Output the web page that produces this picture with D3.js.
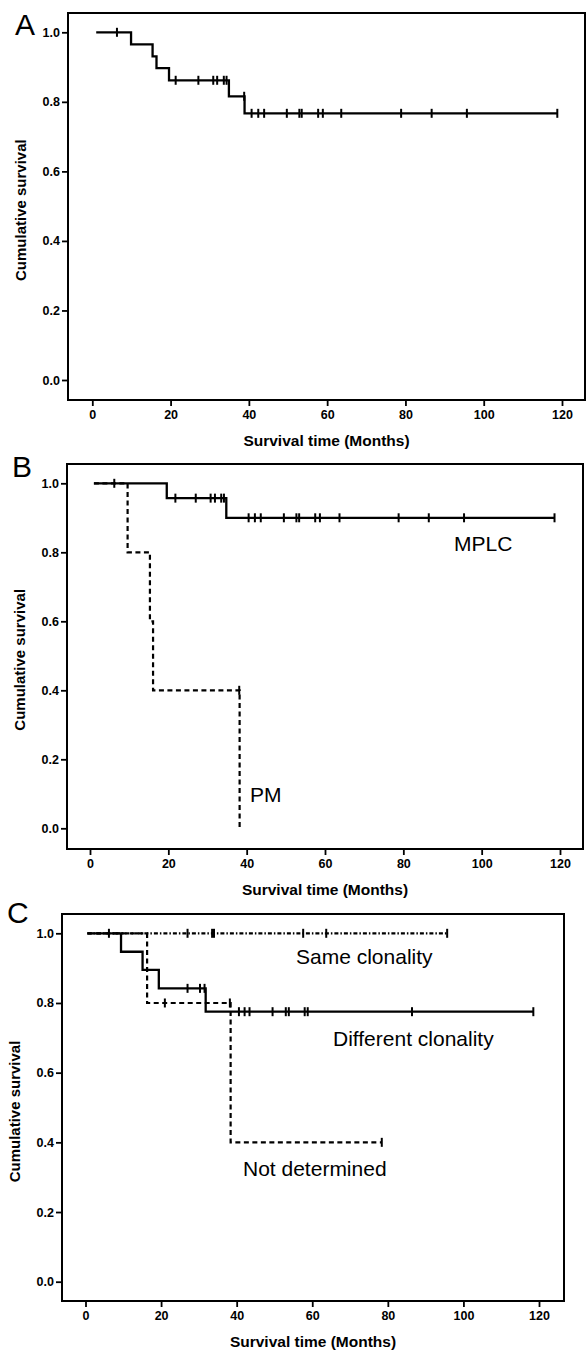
<!DOCTYPE html>
<html>
<head>
<meta charset="utf-8">
<script src="https://cdn.jsdelivr.net/npm/d3@7"></script>
<style>
  body { margin: 0; background: #fff; }
  svg { display: block; }
</style>
</head>
<body>
<svg id="chart" width="586" height="1353"></svg>
<script>
// x and y ticks shared by all three panels
const xTicks = [0, 20, 40, 60, 80, 100, 120];
const yTicks = [0, 0.2, 0.4, 0.6, 0.8, 1.0];

// Panel A: all patients  [time, survival after step]
const allSteps = [[1, 1], [9.9, 0.965], [15.4, 0.931], [16.4, 0.897], [19.6, 0.862], [34.9, 0.816], [38.9, 0.767]];
const allEnd = 118.8;
const allCensor = [6.3, 21.3, 27.1, 30.9, 31.9, 33.6, 34.3, 38.8, 40.7, 42.4, 43.9, 49.7, 52.9, 53.5, 57.7, 58.9, 63.6, 78.9, 86.7, 95.7, 118.8];

// Panel B: MPLC vs PM
const mplcSteps = [[1, 1], [19.6, 0.957], [34.8, 0.9]];
const mplcEnd = 118.6;
const mplcCensor = [6.2, 21.8, 27, 30.8, 31.9, 33.5, 34.2, 40.5, 42.1, 43.6, 49.5, 52.7, 53.4, 57.5, 58.7, 63.7, 78.8, 86.5, 95.5, 118.6];
const pmSteps = [[1, 1], [9.6, 0.8], [15.3, 0.6], [16.1, 0.4], [38.2, 0]];
const pmEnd = 38.2;
const pmCensor = [38.1];

// Panel C: clonality
const sameSteps = [[0.5, 1]];
const sameEnd = 95.7;
const sameCensor = [6.2, 27, 33.5, 34, 57.6, 63.7, 95.7];
const diffSteps = [[0.5, 1], [9.4, 0.947], [15.1, 0.895], [19.4, 0.842], [31.8, 0.775]];
const diffEnd = 118.5;
const diffCensor = [27, 30.3, 31.5, 40.6, 42.1, 43.4, 49.5, 53, 53.8, 58, 58.8, 86.4, 118.5];
const ndSteps = [[0.5, 1], [16.3, 0.8], [38.4, 0.4]];
const ndEnd = 78.4;
const ndCensor = [21, 38.2, 78.4];

const svg = d3.select("#chart");
const fontFam = "'Liberation Sans', Arial, sans-serif";

const panels = [
  {
    letter: "A", lx: 15, ly: 35,
    frame: { l: 68, t: 13, r: 585, b: 400 },
    xr: [92.3, 562], yr: [380, 32.3],
    curves: [{ steps: allSteps, end: allEnd, censor: allCensor, dash: null }],
    notes: []
  },
  {
    letter: "B", lx: 12, ly: 477,
    frame: { l: 67, t: 464, r: 583, b: 849 },
    xr: [90, 560], yr: [828.3, 483.3],
    curves: [
      { steps: pmSteps, end: pmEnd, censor: pmCensor, dash: "5,3.5" },
      { steps: mplcSteps, end: mplcEnd, censor: mplcCensor, dash: null }
    ],
    notes: [
      { text: "MPLC", x: 454, y: 551 },
      { text: "PM", x: 250, y: 802 }
    ]
  },
  {
    letter: "C", lx: 7, ly: 923,
    frame: { l: 62, t: 914, r: 564, b: 1301 },
    xr: [85.5, 539], yr: [1281.7, 933.3],
    curves: [
      { steps: sameSteps, end: sameEnd, censor: sameCensor, dash: "4,2,1.5,2" },
      { steps: ndSteps, end: ndEnd, censor: ndCensor, dash: "5,3.5" },
      { steps: diffSteps, end: diffEnd, censor: diffCensor, dash: null }
    ],
    notes: [
      { text: "Same clonality", x: 296, y: 964 },
      { text: "Different clonality", x: 333, y: 1046 },
      { text: "Not determined", x: 243, y: 1176 }
    ]
  }
];

function levelAt(steps, t) {
  let v = steps[0][1];
  steps.forEach(s => { if (s[0] <= t) v = s[1]; });
  return v;
}

function stepPoints(steps, end) {
  const pts = [];
  steps.forEach((s, i) => {
    if (i > 0) pts.push([s[0], steps[i - 1][1]]);
    pts.push([s[0], s[1]]);
  });
  const last = steps[steps.length - 1];
  if (end > last[0]) pts.push([end, last[1]]);
  return pts;
}

panels.forEach(p => {
  const x = d3.scaleLinear().domain([0, 120]).range(p.xr);
  const y = d3.scaleLinear().domain([0, 1]).range(p.yr);
  const f = p.frame;
  const g = svg.append("g");

  // axes
  const xAxis = g.append("g")
    .attr("transform", `translate(0,${f.b})`)
    .call(d3.axisBottom(x).tickValues(xTicks).tickSize(6).tickPadding(4).tickFormat(d3.format("d")));
  const yAxis = g.append("g")
    .attr("transform", `translate(${f.l},0)`)
    .call(d3.axisLeft(y).tickValues(yTicks).tickSize(6).tickPadding(2).tickFormat(d3.format(".1f")));
  [xAxis, yAxis].forEach(a => {
    a.select(".domain").remove();
    a.selectAll("line").attr("stroke", "#000").attr("stroke-width", 1.8);
    a.selectAll("text")
      .attr("fill", "#000")
      .style("font-family", fontFam)
      .style("font-weight", "bold")
      .style("font-size", "12.5px");
  });

  // frame
  g.append("rect")
    .attr("x", f.l).attr("y", f.t)
    .attr("width", f.r - f.l).attr("height", f.b - f.t)
    .attr("fill", "none").attr("stroke", "#000").attr("stroke-width", 2);

  // curves
  const line = d3.line().x(d => x(d[0])).y(d => y(d[1]));
  p.curves.forEach(c => {
    g.append("path")
      .attr("d", line(stepPoints(c.steps, c.end)))
      .attr("fill", "none")
      .attr("stroke", "#000")
      .attr("stroke-width", c.dash ? 2.2 : 2.3)
      .attr("stroke-dasharray", c.dash);
    g.selectAll(null)
      .data(c.censor)
      .enter().append("line")
      .attr("x1", d => x(d)).attr("x2", d => x(d))
      .attr("y1", d => y(levelAt(c.steps, d)) - 4.5)
      .attr("y2", d => y(levelAt(c.steps, d)) + 4.5)
      .attr("stroke", "#000").attr("stroke-width", 2);
  });

  // annotations
  p.notes.forEach(n => {
    g.append("text")
      .text(n.text)
      .attr("x", n.x).attr("y", n.y)
      .style("font-family", fontFam)
      .style("font-size", "21px");
  });

  // panel letter
  g.append("text")
    .text(p.letter)
    .attr("x", p.lx).attr("y", p.ly)
    .style("font-family", fontFam)
    .style("font-size", "30px");

  // axis titles
  g.append("text")
    .text("Survival time (Months)")
    .attr("x", (f.l + f.r) / 2)
    .attr("y", f.b + 46)
    .attr("text-anchor", "middle")
    .style("font-family", fontFam)
    .style("font-weight", "bold")
    .style("font-size", "15.5px");

  g.append("text")
    .text("Cumulative survival")
    .attr("transform", `translate(${f.l - 42},${(p.yr[0] + p.yr[1]) / 2 + 4}) rotate(-90)`)
    .attr("text-anchor", "middle")
    .style("font-family", fontFam)
    .style("font-weight", "bold")
    .style("font-size", "15px");
});
</script>
</body>
</html>
